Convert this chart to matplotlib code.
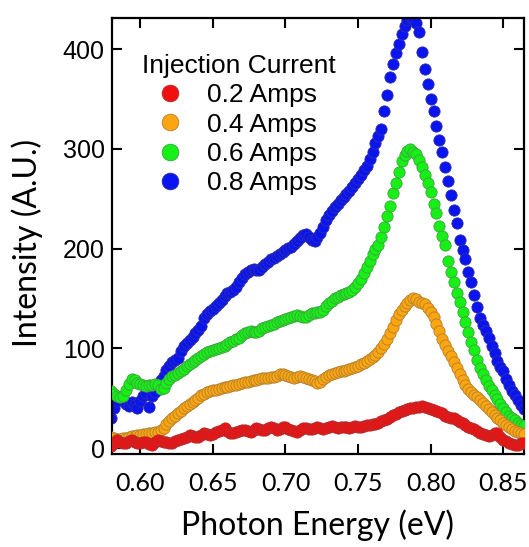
import numpy as np
import matplotlib
matplotlib.use("Agg")
import matplotlib.pyplot as plt
from matplotlib.lines import Line2D

# photon energy grid (eV), one reading every 2 meV
energy = np.round(np.arange(0.580, 0.8641, 0.002), 3)

amps_02 = [
    2, 5, 8, 6, 5, 5, 7, 8, 6, 5,
    5, 6, 6, 4, 3, 6, 8, 7, 6, 6,
    5, 5, 7, 8, 9, 10, 11, 13, 12, 11,
    11, 13, 15, 14, 13, 14, 16, 17, 18, 20,
    17, 15, 15, 16, 17, 18, 18, 17, 16, 18,
    20, 19, 18, 18, 20, 21, 20, 18, 19, 21,
    21, 19, 18, 17, 16, 18, 20, 20, 19, 19,
    20, 21, 20, 19, 20, 21, 22, 21, 20, 21,
    21, 21, 20, 21, 22, 21, 21, 22, 23, 23,
    24, 24, 25, 27, 28, 29, 31, 33, 34, 36,
    37, 38, 39, 40, 40, 41, 41, 42, 41, 40,
    39, 38, 37, 36, 35, 32, 31, 30, 30, 28,
    26, 25, 23, 21, 20, 19, 17, 15, 14, 13,
    12, 13, 15, 15, 11, 8, 7, 5, 4, 3,
    3, 5, 5,
]

amps_04 = [
    11, 10, 9, 9, 10, 10, 11, 12, 12, 13,
    13, 14, 14, 15, 15, 16, 16, 18, 20, 24,
    27, 30, 32, 35, 37, 40, 42, 44, 46, 48,
    50, 53, 54, 56, 57, 58, 58, 59, 60, 61,
    61, 62, 63, 63, 64, 65, 66, 66, 67, 68,
    68, 69, 70, 70, 70, 71, 71, 72, 74, 74,
    73, 72, 71, 70, 71, 72, 71, 70, 69, 68,
    67, 65, 66, 69, 71, 73, 74, 75, 76, 77,
    77, 78, 79, 80, 81, 82, 84, 85, 87, 89,
    91, 93, 96, 100, 104, 109, 115, 121, 128, 134,
    138, 142, 145, 148, 150, 149, 146, 145, 144, 140,
    136, 131, 124, 117, 109, 103, 97, 92, 86, 80,
    74, 68, 63, 59, 56, 53, 51, 48, 45, 42,
    39, 36, 33, 30, 28, 25, 23, 21, 19, 17,
    16, 15, 14,
]

amps_06 = [
    57, 54, 52, 51, 52, 58, 64, 69, 68, 65,
    64, 63, 62, 63, 63, 64, 63, 59, 60, 65,
    69, 72, 73, 75, 77, 79, 82, 84, 86, 88,
    90, 92, 94, 96, 97, 98, 99, 100, 101, 102,
    104, 106, 107, 109, 110, 113, 115, 116, 117, 116,
    116, 117, 120, 121, 122, 123, 124, 126, 127, 128,
    129, 130, 131, 132, 133, 132, 131, 131, 133, 135,
    135, 136, 136, 138, 142, 145, 147, 150, 151, 153,
    154, 155, 156, 159, 162, 166, 170, 176, 182, 188,
    195, 200, 204, 212, 222, 233, 243, 256, 266, 277,
    288, 294, 298, 300, 297, 295, 289, 282, 274, 266,
    257, 245, 236, 223, 213, 204, 188, 177, 167, 155,
    146, 136, 126, 116, 106, 98, 88, 80, 74, 68,
    62, 58, 53, 49, 44, 40, 36, 32, 30, 28,
    25, 23, 22,
]

amps_08 = [
    30, 40, 47, 51, 48, 44, 42, 46, 43, 40,
    47, 52, 55, 41, 52, 56, 64, 68, 72, 78,
    82, 86, 88, 90, 97, 102, 105, 108, 111, 115,
    118, 122, 130, 134, 137, 139, 142, 145, 148, 152,
    155, 157, 159, 162, 167, 171, 175, 177, 179, 180,
    179, 179, 182, 185, 187, 190, 191, 193, 195, 197,
    199, 201, 202, 205, 208, 211, 214, 215, 212, 209,
    208, 212, 216, 222, 229, 234, 238, 242, 245, 249,
    252, 255, 258, 262, 266, 270, 274, 279, 283, 290,
    297, 306, 313, 320, 338, 354, 372, 385, 396, 405,
    415, 423, 429, 432, 431, 426, 417, 397, 380, 365,
    350, 338, 323, 309, 297, 282, 268, 254, 239, 226,
    209, 199, 190, 177, 167, 153, 141, 130, 123, 117,
    110, 102, 95, 87, 81, 77, 69, 63, 57, 53,
    48, 43, 39,
]

labels = ["0.2 Amps", "0.4 Amps", "0.6 Amps", "0.8 Amps"]
series = [amps_02, amps_04, amps_06, amps_08]
face_colors = ["#f01010", "#fba511", "#16f016", "#0a14f0"]
edge_colors = ["#b03030", "#b08030", "#40a040", "#3030a0"]

fig = plt.figure(figsize=(5.29, 5.47), dpi=100)
ax = fig.add_axes([0.2112, 0.170, 0.7793, 0.7965])

# blue drawn first, red last (red sits on top in the original)
for i in reversed(range(len(series))):
    ax.plot(energy, series[i], linestyle="none", marker="o", markersize=8.1,
            markerfacecolor=face_colors[i], markeredgecolor=edge_colors[i],
            markeredgewidth=0.6, zorder=2 + (3 - i))

ax.set_xlim(0.5803, 0.8643)
ax.set_ylim(-6, 431)
ax.set_xticks([0.60, 0.65, 0.70, 0.75, 0.80, 0.85])
ax.set_xticklabels(["0.60", "0.65", "0.70", "0.75", "0.80", "0.85"])
ax.set_yticks([0, 100, 200, 300, 400])

for side in ["top", "bottom", "left", "right"]:
    ax.spines[side].set_linewidth(1.6)
ax.tick_params(direction="in", length=7.5, width=1.5, top=True, right=True)
ax.tick_params(axis="x", pad=13)
ax.tick_params(axis="y", pad=5)
for lab in ax.get_xticklabels():
    lab.set_fontfamily("Lato")
    lab.set_fontsize(18)
for lab in ax.get_yticklabels():
    lab.set_fontfamily("Liberation Sans")
    lab.set_fontsize(18)

ax.set_xlabel("Photon Energy (eV)", fontsize=23, fontfamily="Lato")
ax.set_ylabel("Intensity (A.U.)", fontsize=23, fontfamily="Lato")
ax.xaxis.set_label_coords(0.5, -0.163)
ax.xaxis.label.set_va("center")
ax.yaxis.set_label_coords(-0.205, 0.485)
ax.yaxis.label.set_va("center")

handles = [Line2D([], [], linestyle="none", marker="o", markersize=12,
                  markerfacecolor=face_colors[i], markeredgecolor=edge_colors[i],
                  markeredgewidth=0.6) for i in range(len(labels))]
leg = ax.legend(handles, labels, title="Injection Current", loc="upper left",
                bbox_to_anchor=(0.0735, 0.918), frameon=False, borderpad=0,
                borderaxespad=0, handlelength=2.1, handletextpad=0.35,
                labelspacing=0.2, alignment="left",
                prop={"family": "Liberation Sans", "size": 19},
                title_fontproperties={"family": "Liberation Sans", "size": 19})

fig.savefig("out.png", dpi=100)
